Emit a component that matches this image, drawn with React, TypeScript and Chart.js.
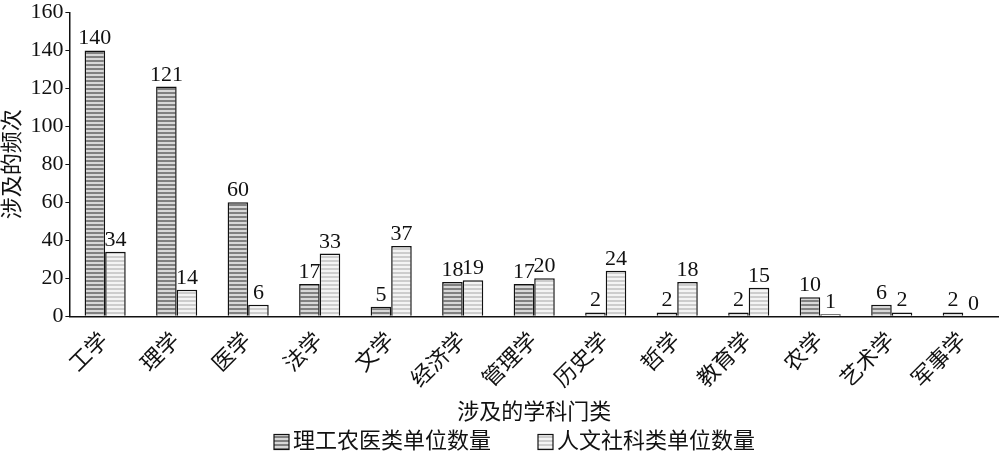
import React, { useEffect, useRef } from "react";
import { Chart, registerables } from "chart.js";

Chart.register(...registerables);

const categories = ["工学", "理学", "医学", "法学", "文学", "经济学", "管理学", "历史学", "哲学", "教育学", "农学", "艺术学", "军事学"];
const scienceUnits = [140, 121, 60, 17, 5, 18, 17, 2, 2, 2, 10, 6, 2];
const humanitiesUnits = [34, 14, 6, 33, 37, 19, 20, 24, 18, 15, 1, 2, 0];
const seriesNames = ["理工农医类单位数量", "人文社科类单位数量"];
const yTicks = [0, 20, 40, 60, 80, 100, 120, 140, 160];
const xTitle = "涉及的学科门类";
const yTitle = "涉及的频次";

const FONT = '"Liberation Serif", "Noto Sans CJK SC", serif';

function stripePattern(c1: string, c2: string): CanvasPattern | string {
  const p = document.createElement("canvas");
  p.width = 4;
  p.height = 4;
  const ctx = p.getContext("2d")!;
  ctx.fillStyle = c1;
  ctx.fillRect(0, 0, 4, 2);
  ctx.fillStyle = c2;
  ctx.fillRect(0, 2, 4, 2);
  const mctx = document.createElement("canvas").getContext("2d")!;
  return mctx.createPattern(p, "repeat") || c1;
}

const valueLabels = {
  id: "valueLabels",
  afterDatasetsDraw(chart: any) {
    const ctx = chart.ctx;
    ctx.save();
    ctx.font = `22px ${FONT}`;
    ctx.fillStyle = "#111";
    ctx.textAlign = "center";
    ctx.textBaseline = "alphabetic";
    chart.data.datasets.forEach((ds: any, di: number) => {
      const meta = chart.getDatasetMeta(di);
      meta.data.forEach((el: any, i: number) => {
        ctx.fillText(String(ds.data[i]), el.x, el.y - 6);
      });
    });
    ctx.restore();
  },
};

const bottomLegend = {
  id: "bottomLegend",
  afterDraw(chart: any) {
    const ctx = chart.ctx;
    ctx.save();
    ctx.font = `22px ${FONT}`;
    ctx.textBaseline = "middle";
    ctx.textAlign = "left";
    const cy = 442;
    const box = 15;
    const gapText = 4;
    const gapItem = 47;
    const ds = chart.data.datasets;
    const widths = ds.map((d: any) => box + gapText + ctx.measureText(d.label).width);
    const total = widths.reduce((a: number, b: number) => a + b, 0) + gapItem * (ds.length - 1);
    let x = chart.width / 2 + 15 - total / 2;
    ds.forEach((d: any, i: number) => {
      ctx.fillStyle = d.backgroundColor;
      ctx.fillRect(x, cy - box / 2, box, box);
      ctx.strokeStyle = "#111";
      ctx.lineWidth = 1.2;
      ctx.strokeRect(x, cy - box / 2, box, box);
      ctx.fillStyle = "#111";
      ctx.fillText(d.label, x + box + gapText, cy);
      x += widths[i] + gapItem;
    });
    ctx.restore();
  },
};

export default function App() {
  const ref = useRef<HTMLCanvasElement>(null);
  useEffect(() => {
    document.body.style.margin = "0";
    const darkPat = stripePattern("#808080", "#d8d8d8");
    const lightPat = stripePattern("#cdcdcd", "#f4f4f4");
    const chart = new Chart(ref.current!, {
      type: "bar",
      data: {
        labels: categories,
        datasets: [
          {
            label: seriesNames[0],
            data: scienceUnits,
            backgroundColor: darkPat as any,
            borderColor: "#111",
            borderWidth: 1.5,
            categoryPercentage: 0.575,
            barPercentage: 1,
          },
          {
            label: seriesNames[1],
            data: humanitiesUnits,
            backgroundColor: lightPat as any,
            borderColor: "#111",
            borderWidth: 1.5,
            categoryPercentage: 0.575,
            barPercentage: 1,
          },
        ],
      },
      options: {
        responsive: false,
        animation: false,
        layout: { padding: { top: 0, right: 0, left: 0, bottom: 36 } },
        plugins: {
          tooltip: { enabled: false },
          legend: { display: false },
        },
        scales: {
          x: {
            grid: { display: false },
            border: { display: true, color: "#111", width: 1.5 },
            ticks: {
              color: "#111",
              font: { family: FONT, size: 22 },
              maxRotation: 45,
              minRotation: 45,
              padding: 4,
            },
            title: {
              display: true,
              text: xTitle,
              color: "#111",
              font: { family: FONT, size: 22 },
              padding: { top: 2, bottom: 0 },
            },
          },
          y: {
            min: 0,
            max: 160,
            afterBuildTicks: (axis: any) => {
              axis.ticks = yTicks.map((v) => ({ value: v }));
            },
            grid: { display: true, drawOnChartArea: false, drawTicks: true, tickLength: 4, color: "#111" },
            border: { display: true, color: "#111", width: 1.5 },
            ticks: {
              color: "#111",
              font: { family: FONT, size: 22, lineHeight: 0.95 },
              padding: 2,
            },
            title: {
              display: true,
              text: yTitle,
              color: "#111",
              font: { family: FONT, size: 22 },
              padding: { top: 0, bottom: 2 },
            },
          },
        },
      },
      plugins: [valueLabels, bottomLegend],
    });
    return () => chart.destroy();
  }, []);
  return (
    <div style={{ width: 999, height: 462 }}>
      <canvas ref={ref} width={999} height={462} style={{ display: "block" }} />
    </div>
  );
}
